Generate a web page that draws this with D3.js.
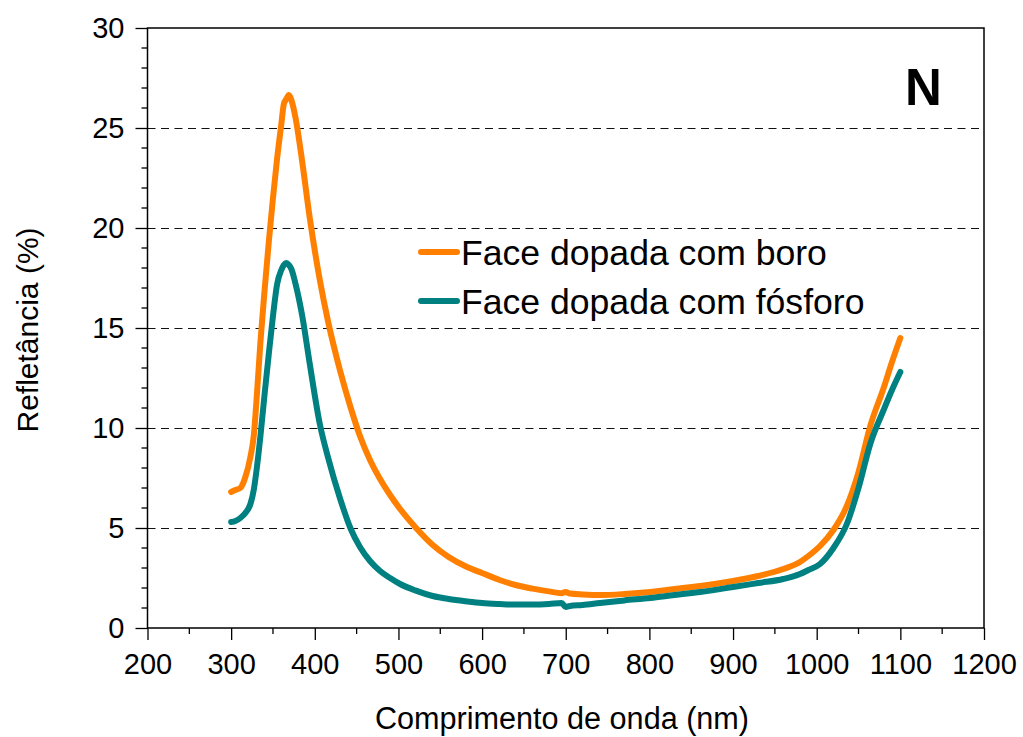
<!DOCTYPE html>
<html>
<head>
<meta charset="utf-8">
<script src="https://cdn.jsdelivr.net/npm/d3@7"></script>
<style>
  html, body { margin: 0; padding: 0; background: #fff; }
  svg { display: block; font-family: "Liberation Sans", Arial, sans-serif; }
</style>
</head>
<body>
<svg id="chart" width="1023" height="737"></svg>
<script>
// Wavelength grid (nm) shared by both spectra
const wavelength = [300, 305, 311, 317, 323, 327, 331, 335, 340, 345, 350, 355, 360, 363, 366, 369, 372, 377, 385, 394,
  406, 416, 430, 443, 454, 466, 478, 490, 502, 520, 541, 560, 582, 600, 621, 640, 660, 680, 695, 700,
  705, 720, 741, 770, 801, 830, 861, 900, 930, 960, 980, 990, 1004, 1020, 1036, 1050, 1064, 1080, 1090, 1100];

// Reflectance (%) — boron-doped face
const boro = [6.8, 6.9, 7.0, 7.55, 8.55, 9.6, 11.8, 14.3, 16.9, 19.3, 21.5, 23.5, 25.2, 26.2, 26.45, 26.65, 26.4, 25.5, 23.3, 20.5,
  17.4, 15.3, 12.9, 11.0, 9.6, 8.4, 7.45, 6.65, 5.95, 5.05, 4.15, 3.55, 3.05, 2.75, 2.4, 2.15, 1.97, 1.83, 1.74, 1.8,
  1.72, 1.68, 1.65, 1.7, 1.8, 1.95, 2.1, 2.35, 2.6, 2.95, 3.3, 3.6, 4.1, 4.9, 6.1, 7.8, 10.1, 12.0, 13.3, 14.5];

// Reflectance (%) — phosphorus-doped face
const fosforo = [5.3, 5.35, 5.5, 5.75, 6.2, 6.9, 8.1, 9.6, 11.7, 13.7, 15.6, 17.2, 17.9, 18.15, 18.25, 18.15, 17.95, 17.2, 15.6, 13.2,
  10.2, 8.5, 6.5, 4.95, 4.05, 3.35, 2.85, 2.5, 2.2, 1.88, 1.6, 1.45, 1.33, 1.25, 1.2, 1.17, 1.17, 1.2, 1.25, 1.05,
  1.1, 1.15, 1.25, 1.38, 1.5, 1.65, 1.8, 2.05, 2.25, 2.45, 2.7, 2.9, 3.2, 4.0, 5.2, 7.0, 9.2, 10.9, 11.9, 12.8];

const seriesNames = ["Face dopada com boro", "Face dopada com fósforo"];
const seriesColors = ["#FF8000", "#008080"];
const xTicks = [200, 300, 400, 500, 600, 700, 800, 900, 1000, 1100, 1200];
const yTicks = [0, 5, 10, 15, 20, 25, 30];
const panelLabel = "N";

const svg = d3.select("#chart");
const plot = { left: 147.5, top: 28, right: 984, bottom: 628 };

const x = d3.scaleLinear().domain([200, 1200]).range([plot.left, plot.right]);
const y = d3.scaleLinear().domain([0, 30]).range([plot.bottom, plot.top]);

// Dashed horizontal gridlines
svg.append("g")
  .selectAll("line")
  .data(yTicks.filter(v => v > 0 && v < 30))
  .join("line")
  .attr("x1", plot.left).attr("x2", plot.right)
  .attr("y1", d => y(d) + 0.5).attr("y2", d => y(d) + 0.5)
  .attr("stroke", "#111").attr("stroke-width", 1)
  .attr("stroke-dasharray", "8,5.5");

// Minor ticks
const xMinor = d3.range(250, 1200, 100);
const yMinor = d3.range(1, 30).filter(v => v % 5 !== 0);

const xAxis = d3.axisBottom(x).tickValues(xTicks).tickSize(12).tickPadding(6).tickFormat(d3.format("d"));
const yAxis = d3.axisLeft(y).tickValues(yTicks).tickSize(12).tickPadding(11).tickFormat(d3.format("d"));

const gx = svg.append("g").attr("transform", `translate(0,${plot.bottom})`).call(xAxis);
const gy = svg.append("g").attr("transform", `translate(${plot.left},0)`).call(yAxis);

gx.append("g").selectAll("line").data(xMinor).join("line")
  .attr("x1", d => x(d)).attr("x2", d => x(d)).attr("y1", 0).attr("y2", 6).attr("stroke", "#000");
gy.append("g").selectAll("line").data(yMinor).join("line")
  .attr("y1", d => y(d)).attr("y2", d => y(d)).attr("x1", 0).attr("x2", -6).attr("stroke", "#000");

[gx, gy].forEach(g => {
  g.select(".domain").remove();
  g.selectAll("line").attr("stroke", "#000").attr("stroke-width", 1.3);
  g.selectAll("text").attr("font-size", 29).attr("fill", "#000")
    .attr("font-family", "'Liberation Sans', Arial, sans-serif");
});
gx.selectAll(".tick text").attr("dy", "0.95em");

// Plot frame
svg.append("rect")
  .attr("x", plot.left).attr("y", plot.top)
  .attr("width", plot.right - plot.left).attr("height", plot.bottom - plot.top)
  .attr("fill", "none").attr("stroke", "#000").attr("stroke-width", 1.5);

// Spectra
const line = d3.line()
  .x((d, i) => x(wavelength[i]))
  .y(d => y(d))
  .curve(d3.curveMonotoneX);

[boro, fosforo].forEach((vals, k) => {
  svg.append("path")
    .datum(vals)
    .attr("d", line)
    .attr("fill", "none")
    .attr("stroke", seriesColors[k])
    .attr("stroke-width", 6)
    .attr("stroke-linejoin", "round")
    .attr("stroke-linecap", "round");
});

// Legend
const legend = svg.append("g").attr("transform", "translate(421,252)");
seriesNames.forEach((name, i) => {
  const row = legend.append("g").attr("transform", `translate(0,${i * 49})`);
  row.append("line").attr("x1", 0).attr("x2", 36).attr("y1", 0).attr("y2", 0)
    .attr("stroke", seriesColors[i]).attr("stroke-width", 6).attr("stroke-linecap", "round");
  row.append("text").attr("x", 40).attr("y", 12.5)
    .attr("font-size", 35.6).attr("fill", "#000").text(name);
});

// Panel label
svg.append("text")
  .attr("x", 905).attr("y", 105)
  .attr("font-size", 51).attr("font-weight", "bold").attr("fill", "#000")
  .text(panelLabel);

// Axis titles
svg.append("text")
  .attr("x", 562).attr("y", 729)
  .attr("text-anchor", "middle").attr("font-size", 30.6).attr("fill", "#000")
  .text("Comprimento de onda (nm)");

svg.append("text")
  .attr("transform", "translate(38,330) rotate(-90)")
  .attr("text-anchor", "middle").attr("font-size", 30).attr("fill", "#000")
  .text("Refletância (%)");
</script>
</body>
</html>
